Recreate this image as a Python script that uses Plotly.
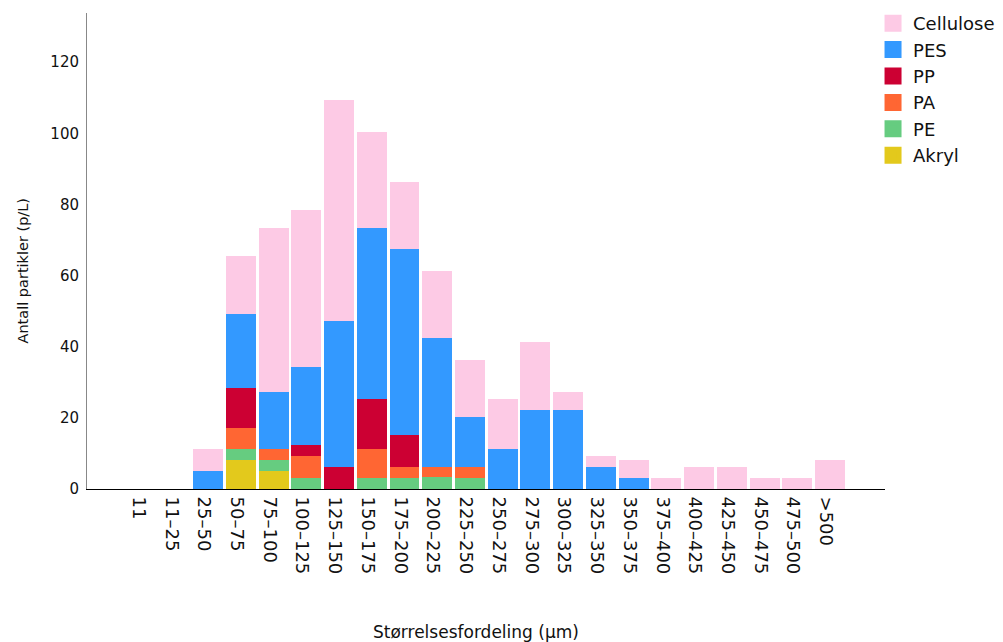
import plotly.graph_objects as go

categories = ["11", "11–25", "25–50", "50–75", "75–100", "100–125", "125–150", "150–175",
              "175–200", "200–225", "225–250", "250–275", "275–300", "300–325", "325–350",
              "350–375", "375–400", "400–425", "425–450", "450–475", "475–500", ">500"]

akryl = [0, 0, 0, 8.1, 5.1, 0, 0, 0, 0, 0, 0, 0, 0, 0, 0, 0, 0, 0, 0, 0, 0, 0]
pe = [0, 0, 0, 3.1, 3.0, 3.2, 0, 3.2, 3.1, 3.3, 3.2, 0, 0, 0, 0, 0, 0, 0, 0, 0, 0, 0]
pa = [0, 0, 0, 5.9, 3.1, 6.0, 0, 8.0, 3.1, 2.9, 3.0, 0, 0, 0, 0, 0, 0, 0, 0, 0, 0, 0]
pp = [0, 0, 0, 11.3, 0, 3.1, 6.2, 14.1, 9.0, 0, 0, 0, 0, 0, 0, 0, 0, 0, 0, 0, 0, 0]
pes = [0, 0, 5.1, 20.8, 16.1, 22.0, 41.0, 48.0, 52.3, 36.2, 14.0, 11.2, 22.2, 22.2, 6.2,
       3.1, 0, 0, 0, 0, 0, 0]
cellulose = [0, 0, 6.1, 16.3, 46.1, 44.1, 62.1, 27.0, 18.8, 18.9, 16.1, 14.1, 19.1, 5.1,
             3.1, 5.0, 3.2, 6.2, 6.2, 3.2, 3.2, 8.1]

series = [
    ("Akryl", akryl, "#E3C91C"),
    ("PE", pe, "#66CC80"),
    ("PA", pa, "#FF6633"),
    ("PP", pp, "#CC0033"),
    ("PES", pes, "#3399FF"),
    ("Cellulose", cellulose, "#FDCAE5"),
]

y_ticks = [0, 20, 40, 60, 80, 100, 120]

fig = go.Figure()
for name, vals, col in series:
    fig.add_trace(go.Bar(x=categories, y=vals, name=name, marker_color=col,
                         marker_line_width=0, showlegend=False))
# legend-only entries (no drawn bars) with larger swatches
for name, vals, col in series:
    fig.add_trace(go.Bar(x=[categories[0]], y=[None], name=name,
                         marker=dict(color=col, line=dict(color=col, width=5)),
                         showlegend=True))

# the page body adds an 8px offset, so the figure is 8px smaller than the window
fig.update_layout(
    width=995, height=634,
    margin=dict(l=79, r=118, t=5, b=153, autoexpand=False),
    barmode="stack", bargap=0.084,
    plot_bgcolor="white", paper_bgcolor="white",
    font=dict(family="DejaVu Sans", color="#111"),
    legend=dict(x=0.985, xanchor="left", y=1.0168, yanchor="top",
                font=dict(size=18, color="#111"), traceorder="reversed",
                bgcolor="rgba(0,0,0,0)"),
    xaxis=dict(type="category", categoryorder="array", categoryarray=categories,
               range=[-1.70, 22.68], showline=True, linecolor="#000", linewidth=1,
               ticks="", tickangle=90, tickfont=dict(size=18, color="#111"),
               ticklabelstandoff=3, ticklabelshift=-4,
               showgrid=False, zeroline=False),
    yaxis=dict(range=[0, 133.8], tickvals=y_ticks, showline=True, linecolor="#888",
               linewidth=1, ticks="", tickfont=dict(size=15, color="#111"),
               showgrid=False, zeroline=False, ticklabelstandoff=4),
    annotations=[
        dict(text="Antall partikler (p/L)", textangle=-90, x=-0.0796, y=0.46,
             xref="paper", yref="paper", xanchor="center", yanchor="middle",
             showarrow=False, font=dict(size=14.5, color="#111")),
        dict(text="Størrelsesfordeling (μm)", x=0.4875, y=-0.3004,
             xref="paper", yref="paper", xanchor="center", yanchor="middle",
             showarrow=False, font=dict(size=17, color="#111")),
    ],
)

fig.write_html("out.html")
